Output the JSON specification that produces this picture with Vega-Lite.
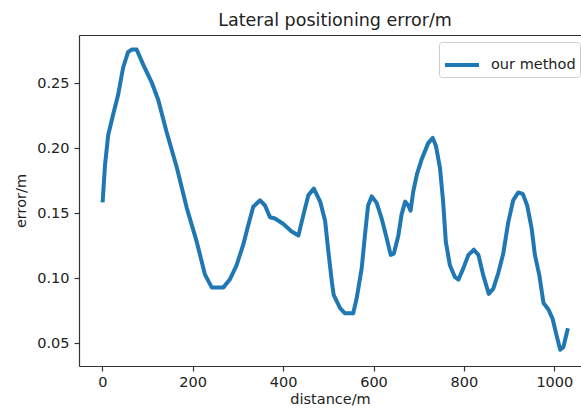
{
  "$schema": "https://vega.github.io/schema/vega-lite/v6.json",
  "width": 502,
  "height": 331,
  "autosize": {"type": "none"},
  "padding": {"left": 79, "top": 35, "right": 0, "bottom": 45},
  "background": "white",
  "title": {
    "text": "Lateral positioning error/m",
    "anchor": "middle",
    "dx": 5,
    "offset": 6,
    "font": "DejaVu Sans",
    "fontSize": 17.5,
    "fontWeight": "normal",
    "color": "#222222"
  },
  "data": {
    "values": [
      {"d": 1, "e": 0.160, "series": "our method"},
      {"d": 6, "e": 0.187, "series": "our method"},
      {"d": 13, "e": 0.210, "series": "our method"},
      {"d": 24, "e": 0.226, "series": "our method"},
      {"d": 35, "e": 0.241, "series": "our method"},
      {"d": 46, "e": 0.262, "series": "our method"},
      {"d": 57, "e": 0.274, "series": "our method"},
      {"d": 65, "e": 0.276, "series": "our method"},
      {"d": 76, "e": 0.276, "series": "our method"},
      {"d": 91, "e": 0.264, "series": "our method"},
      {"d": 109, "e": 0.251, "series": "our method"},
      {"d": 124, "e": 0.237, "series": "our method"},
      {"d": 142, "e": 0.213, "series": "our method"},
      {"d": 165, "e": 0.185, "series": "our method"},
      {"d": 187, "e": 0.154, "series": "our method"},
      {"d": 209, "e": 0.128, "series": "our method"},
      {"d": 227, "e": 0.103, "series": "our method"},
      {"d": 242, "e": 0.093, "series": "our method"},
      {"d": 268, "e": 0.093, "series": "our method"},
      {"d": 282, "e": 0.099, "series": "our method"},
      {"d": 297, "e": 0.110, "series": "our method"},
      {"d": 312, "e": 0.126, "series": "our method"},
      {"d": 323, "e": 0.141, "series": "our method"},
      {"d": 334, "e": 0.155, "series": "our method"},
      {"d": 349, "e": 0.160, "series": "our method"},
      {"d": 360, "e": 0.156, "series": "our method"},
      {"d": 371, "e": 0.147, "series": "our method"},
      {"d": 382, "e": 0.146, "series": "our method"},
      {"d": 400, "e": 0.142, "series": "our method"},
      {"d": 419, "e": 0.136, "series": "our method"},
      {"d": 434, "e": 0.133, "series": "our method"},
      {"d": 445, "e": 0.149, "series": "our method"},
      {"d": 456, "e": 0.164, "series": "our method"},
      {"d": 468, "e": 0.169, "series": "our method"},
      {"d": 482, "e": 0.159, "series": "our method"},
      {"d": 493, "e": 0.144, "series": "our method"},
      {"d": 500, "e": 0.121, "series": "our method"},
      {"d": 508, "e": 0.097, "series": "our method"},
      {"d": 512, "e": 0.087, "series": "our method"},
      {"d": 522, "e": 0.080, "series": "our method"},
      {"d": 526, "e": 0.077, "series": "our method"},
      {"d": 537, "e": 0.073, "series": "our method"},
      {"d": 555, "e": 0.073, "series": "our method"},
      {"d": 563, "e": 0.085, "series": "our method"},
      {"d": 574, "e": 0.108, "series": "our method"},
      {"d": 581, "e": 0.133, "series": "our method"},
      {"d": 588, "e": 0.156, "series": "our method"},
      {"d": 596, "e": 0.163, "series": "our method"},
      {"d": 607, "e": 0.158, "series": "our method"},
      {"d": 618, "e": 0.146, "series": "our method"},
      {"d": 629, "e": 0.131, "series": "our method"},
      {"d": 638, "e": 0.118, "series": "our method"},
      {"d": 645, "e": 0.119, "series": "our method"},
      {"d": 655, "e": 0.133, "series": "our method"},
      {"d": 662, "e": 0.149, "series": "our method"},
      {"d": 670, "e": 0.159, "series": "our method"},
      {"d": 677, "e": 0.156, "series": "our method"},
      {"d": 682, "e": 0.152, "series": "our method"},
      {"d": 688, "e": 0.167, "series": "our method"},
      {"d": 696, "e": 0.180, "series": "our method"},
      {"d": 707, "e": 0.192, "series": "our method"},
      {"d": 721, "e": 0.204, "series": "our method"},
      {"d": 731, "e": 0.208, "series": "our method"},
      {"d": 738, "e": 0.202, "series": "our method"},
      {"d": 747, "e": 0.185, "series": "our method"},
      {"d": 754, "e": 0.159, "series": "our method"},
      {"d": 760, "e": 0.128, "series": "our method"},
      {"d": 769, "e": 0.110, "series": "our method"},
      {"d": 780, "e": 0.101, "series": "our method"},
      {"d": 788, "e": 0.099, "series": "our method"},
      {"d": 799, "e": 0.108, "series": "our method"},
      {"d": 810, "e": 0.118, "series": "our method"},
      {"d": 822, "e": 0.122, "series": "our method"},
      {"d": 832, "e": 0.118, "series": "our method"},
      {"d": 843, "e": 0.102, "series": "our method"},
      {"d": 855, "e": 0.088, "series": "our method"},
      {"d": 865, "e": 0.092, "series": "our method"},
      {"d": 876, "e": 0.104, "series": "our method"},
      {"d": 887, "e": 0.119, "series": "our method"},
      {"d": 898, "e": 0.143, "series": "our method"},
      {"d": 909, "e": 0.160, "series": "our method"},
      {"d": 920, "e": 0.166, "series": "our method"},
      {"d": 930, "e": 0.165, "series": "our method"},
      {"d": 940, "e": 0.156, "series": "our method"},
      {"d": 950, "e": 0.138, "series": "our method"},
      {"d": 957, "e": 0.118, "series": "our method"},
      {"d": 967, "e": 0.102, "series": "our method"},
      {"d": 976, "e": 0.081, "series": "our method"},
      {"d": 987, "e": 0.076, "series": "our method"},
      {"d": 996, "e": 0.069, "series": "our method"},
      {"d": 1005, "e": 0.056, "series": "our method"},
      {"d": 1013, "e": 0.045, "series": "our method"},
      {"d": 1020, "e": 0.047, "series": "our method"},
      {"d": 1029, "e": 0.060, "series": "our method"}
    ]
  },
  "layer": [
    {
      "mark": {"type": "line", "strokeWidth": 4, "strokeJoin": "round", "strokeCap": "square"},
      "encoding": {
        "x": {
          "field": "d", "type": "quantitative",
          "scale": {"domain": [-51.5, 1059], "nice": false, "zero": false},
          "axis": {
            "orient": "bottom",
            "values": [0, 200, 400, 600, 800, 1000],
            "format": "d",
            "title": "distance/m",
            "titlePadding": 4,
            "labelPadding": 4
          }
        },
        "y": {
          "field": "e", "type": "quantitative",
          "scale": {"domain": [0.0325, 0.2872], "nice": false, "zero": false},
          "axis": {
            "values": [0.05, 0.10, 0.15, 0.20, 0.25],
            "format": ".2f",
            "title": "error/m",
            "labelPadding": 5,
            "titlePadding": 8
          }
        },
        "color": {
          "field": "series", "type": "nominal",
          "scale": {"range": ["#1f77b4"]},
          "legend": {
            "title": null,
            "orient": "none",
            "legendX": 360,
            "legendY": 7,
            "symbolType": "stroke",
            "symbolSize": 1156,
            "symbolStrokeWidth": 4,
            "labelFontSize": 14.5,
            "labelFont": "DejaVu Sans",
            "labelColor": "#222222",
            "labelOffset": 10,
            "padding": 4,
            "strokeColor": "#cccccc",
            "fillColor": "white",
            "cornerRadius": 3
          }
        }
      }
    },
    {
      "mark": {"type": "line", "opacity": 0},
      "encoding": {
        "x": {
          "field": "d", "type": "quantitative",
          "axis": {"orient": "top", "labels": false, "ticks": false, "title": null, "domain": true, "grid": false}
        },
        "y": {"field": "e", "type": "quantitative"}
      }
    }
  ],
  "resolve": {"axis": {"x": "independent"}},
  "config": {
    "view": {"stroke": null},
    "axis": {
      "grid": false,
      "domainColor": "#333333",
      "domainWidth": 1.2,
      "tickColor": "#333333",
      "tickSize": 5,
      "tickWidth": 1.2,
      "labelFont": "DejaVu Sans",
      "labelFontSize": 14.5,
      "labelColor": "#222222",
      "titleFont": "DejaVu Sans",
      "titleFontSize": 14.5,
      "titleFontWeight": "normal",
      "titleColor": "#222222"
    }
  }
}
